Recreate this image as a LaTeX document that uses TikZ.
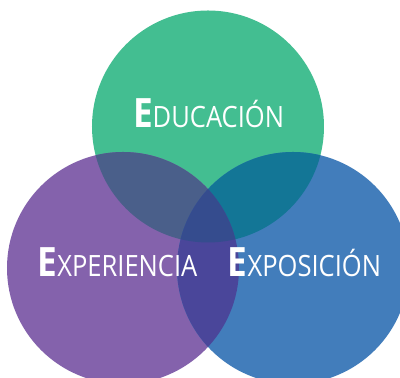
\documentclass[tikz,border=0pt]{standalone}
\usepackage{fontspec, graphicx}
\setmainfont{Open Sans}
\definecolor{vgreen}{RGB}{67,190,145}
\definecolor{vpurple}{RGB}{132,98,172}
\definecolor{vblue}{RGB}{66,125,187}
\definecolor{vgp}{RGB}{74,95,138}
\definecolor{vgb}{RGB}{19,118,150}
\definecolor{vpb}{RGB}{74,70,154}
\definecolor{vall}{RGB}{53,76,142}
\newcommand{\capE}[1]{\scalebox{0.87}[1]{{\fontsize{23}{23}\selectfont\bfseries E}{\fontsize{16.7}{17}\selectfont #1}}}
\tikzset{
label/.style={text=white, anchor=base, inner sep=0pt},
}

\begin{document}
\begin{tikzpicture}[x=0.02cm, y=0.02cm]
  \useasboundingbox (0,0) rectangle (400,378);
  \coordinate (edu) at (208,251.5);
  \coordinate (exp) at (123,110);
  \coordinate (pos) at (293,110);
  \fill[vgreen] (edu) circle [radius=116];
  \fill[vpurple] (exp) circle [radius=116];
  \fill[vblue] (pos) circle [radius=116];
  % overlaps
  \begin{scope}
    \clip (edu) circle [radius=116];
    \fill[vgp] (exp) circle [radius=116];
    \fill[vgb] (pos) circle [radius=116];
  \end{scope}
  \begin{scope}
    \clip (exp) circle [radius=116];
    \fill[vpb] (pos) circle [radius=116];
  \end{scope}
  \begin{scope}
    \clip (edu) circle [radius=116];
    \clip (exp) circle [radius=116];
    \fill[vall] (pos) circle [radius=116];
  \end{scope}
  \node[label] (tedu) at (208.5,250) {\capE{DUCACIÓN}};
  \node[label] (texp) at (117.5,101) {\capE{XPERIENCIA}};
  \node[label] (tpos) at (304.5,101) {\capE{XPOSICIÓN}};
\end{tikzpicture}
\end{document}
